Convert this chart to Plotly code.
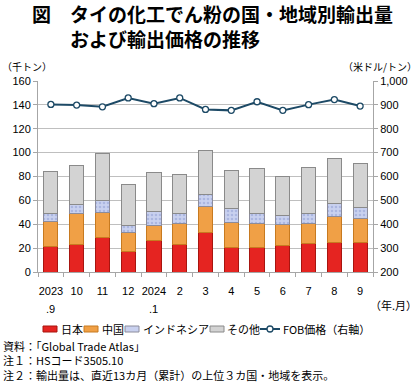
import plotly.graph_objects as go

months = ["2023", "10", "11", "12", "2024", "2", "3", "4", "5", "6", "7", "8", "9"]
sub_labels = [".9", "", "", "", ".1", "", "", "", "", "", "", "", ""]
japan = [21.0, 22.7, 28.5, 16.8, 26.0, 22.9, 32.7, 20.7, 20.7, 22.4, 24.1, 24.3, 24.9]
china = [21.2, 26.0, 21.0, 16.5, 13.2, 17.7, 21.8, 20.7, 19.6, 17.3, 16.5, 22.1, 20.1]
indonesia = [6.5, 7.8, 10.6, 5.3, 11.7, 8.6, 10.4, 11.7, 8.4, 7.8, 8.3, 11.2, 9.3]
others = [35.2, 32.4, 39.5, 34.7, 32.7, 32.8, 36.9, 31.9, 37.7, 32.5, 38.9, 37.5, 36.9]
fob = [902, 899, 892, 929, 905, 929, 881, 877, 913, 877, 901, 922, 895]

W, H = 420, 382
L, R, T, B = 38, 47, 81, 110
PW, PH = W - L - R, H - T - B


def px(x):
    return (x - L) / PW


def py(y):
    return (H - B - y) / PH


FONT = "Arial, Liberation Sans, Noto Sans CJK JP"
JFONT = "Noto Sans CJK JP, sans-serif"

C_JP, E_JP = "#E52421", "#A8150F"
C_CN, E_CN = "#F0A046", "#C77A20"
C_ID, E_ID = "#C9D1EF", "#8C8C9C"
C_OT, E_OT = "#D3D3D3", "#8A8A8A"
C_LN = "#1D4A66"

fig = go.Figure()
fig.add_bar(x=months, y=japan, name="日本",
            marker=dict(color=C_JP, line=dict(color=E_JP, width=1)))
fig.add_bar(x=months, y=china, name="中国",
            marker=dict(color=C_CN, line=dict(color=E_CN, width=1)))
fig.add_bar(x=months, y=indonesia, name="インドネシア",
            marker=dict(color=C_ID, line=dict(color=E_ID, width=1),
                        pattern=dict(shape=".", fgcolor="#8E9BD2", bgcolor=C_ID,
                                     size=4, solidity=0.35, fillmode="overlay")))
fig.add_bar(x=months, y=others, name="その他",
            marker=dict(color=C_OT, line=dict(color=E_OT, width=1)))
fig.add_scatter(x=months, y=fob, name="FOB価格（右軸）", yaxis="y2", mode="lines+markers",
                line=dict(color=C_LN, width=2),
                marker=dict(symbol="circle", size=6, color="white",
                            line=dict(color=C_LN, width=1.3)))

annotations = []
for i, s in enumerate(sub_labels):
    if s:
        annotations.append(dict(x=i, xref="x", y=py(309), yref="paper", text=s,
                                showarrow=False, yanchor="middle",
                                font=dict(size=11, family=FONT, color="#000")))


def txt(x, y, text, size, anchor="left", family=JFONT):
    return dict(x=px(x), y=py(y), xref="paper", yref="paper", xanchor=anchor,
                yanchor="middle", text=text, showarrow=False, align="left",
                font=dict(size=size, family=family, color="#000"))


annotations += [
    txt(30, 26, "<b>図　タイの化工でん粉の国・地域別輸出量<br>　　および輸出価格の推移</b>", 19),
    txt(0, 66, "（千トン）", 10),
    txt(419, 66, "（米ドル/トン）", 10, "right"),
    txt(419, 305, "（年.月）", 11, "right"),
    txt(1, 360, "資料：「Global Trade Atlas」<br>注１：HSコード3505.10<br>"
                "注２：輸出量は、直近13カ月（累計）の上位３カ国・地域を表示。", 11),
]

# manual legend (symbols + text)
LY = 329
shapes = []
legend_items = [
    (43, 57, C_JP, E_JP, "日本", 58.5),
    (84, 98, C_CN, E_CN, "中国", 99.5),
    (125, 139, C_ID, E_ID, "インドネシア", 140.5),
    (210, 224, C_OT, E_OT, "その他", 225.5),
]
for x0, x1, fc, ec, label, tx in legend_items:
    shapes.append(dict(type="rect", xref="paper", yref="paper", x0=px(x0), x1=px(x1),
                       y0=py(LY + 3), y1=py(LY - 3), fillcolor=fc,
                       line=dict(color=ec, width=1)))
    annotations.append(txt(tx, LY, label, 11))
shapes.append(dict(type="line", xref="paper", yref="paper", x0=px(260), x1=px(280),
                   y0=py(LY), y1=py(LY), line=dict(color=C_LN, width=2)))
shapes.append(dict(type="circle", xref="paper", yref="paper", x0=px(267), x1=px(273),
                   y0=py(LY + 3), y1=py(LY - 3), fillcolor="white",
                   line=dict(color=C_LN, width=1.3)))
annotations.append(txt(280.5, LY, "FOB価格（右軸）", 11))

fig.update_layout(
    width=W, height=H,
    margin=dict(l=L, r=R, t=T, b=B, pad=0),
    paper_bgcolor="white", plot_bgcolor="white",
    barmode="stack", bargap=0.45,
    font=dict(family=FONT, size=11, color="#000"),
    showlegend=False,
    xaxis=dict(type="category", categoryorder="array", categoryarray=months,
               range=[-0.5, len(months) - 0.5], showgrid=False, showline=True,
               linecolor="#A6A6A6", ticks="outside", tickson="boundaries", ticklen=4,
               tickcolor="#A6A6A6", tickangle=0, ticklabelstandoff=9,
               tickfont=dict(size=11, family=FONT)),
    yaxis=dict(range=[0, 160], dtick=20, showgrid=True, gridcolor="#BFBFBF", gridwidth=1,
               showline=True, linecolor="#A6A6A6", ticks="outside", ticklen=4,
               tickcolor="#A6A6A6", zeroline=False, tickfont=dict(size=11, family=FONT)),
    yaxis2=dict(range=[200, 1000], dtick=100, overlaying="y", side="right", showgrid=False,
                showline=True, linecolor="#A6A6A6", ticks="outside", ticklen=4,
                tickcolor="#A6A6A6", zeroline=False, tickformat=",",
                tickfont=dict(size=11, family=FONT)),
    annotations=annotations,
    shapes=shapes,
)

fig.write_html("out.html", config={"displayModeBar": False},
               post_script="document.body.style.margin='0';document.body.style.overflow='hidden';")
